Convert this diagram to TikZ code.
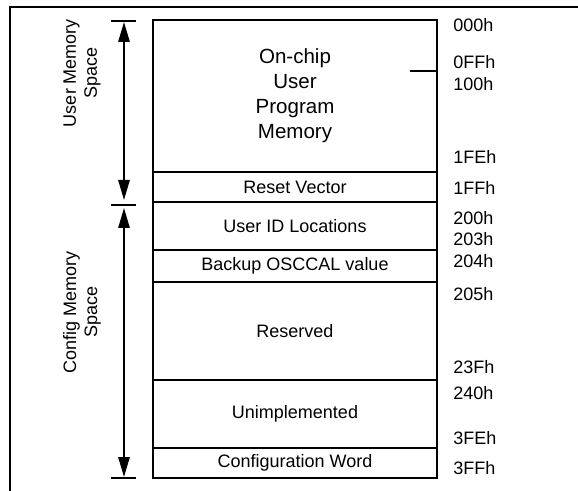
\documentclass[tikz,border=0pt]{standalone}
\usepackage{fontspec}
\setmainfont{Liberation Sans}
\usetikzlibrary{arrows.meta}
\tikzset{
	memline/.style={line width=1.4pt},
	cell/.style={font=\fontsize{13.5}{16}\selectfont},
	bigcell/.style={font=\fontsize{15.4}{18.8}\selectfont, align=center},
	addr/.style={anchor=west, inner sep=0pt, font=\fontsize{13.5}{16}\selectfont},
	spacelabel/.style={rotate=90, align=center, font=\fontsize{13.5}{15.8}\selectfont},
	spanarrow/.style={line width=1.4pt, {Triangle[length=15pt,width=8.5pt]}-{Triangle[length=15pt,width=8.5pt]}},
}

\begin{document}
\begin{tikzpicture}[x=0.75pt, y=-0.75pt]
				\useasboundingbox (0,0) rectangle (578,491);
				\draw[memline] (578,7) -- (10,7) -- (10,491);
				
				% memory map
				\draw[memline] (153,20) rectangle (437,478);
				\draw[memline] (153,172) -- (437,172);
				\draw[memline] (153,202) -- (437,202);
				\draw[memline] (153,250) -- (437,250);
				\draw[memline] (153,282) -- (437,282);
				\draw[memline] (153,380) -- (437,380);
				\draw[memline] (153,448) -- (437,448);
				\draw[memline] (410,71) -- (437,71);
				
				\node[bigcell] (progmem) at (295,96) {On-chip\\User\\Program\\Memory};
				\node[cell] (reset) at (295,187) {Reset Vector};
				\node[cell] (userid) at (295,226) {User ID Locations};
				\node[cell] (osccal) at (295,266) {Backup OSCCAL value};
				\node[cell] (reserved) at (295,331) {Reserved};
				\node[cell] (unimpl) at (295,414) {Unimplemented};
				\node[cell] (config) at (295,463) {Configuration Word};
				
				% addresses
				\node[addr] (a000) at (453,25) {000h};
				\node[addr] (a0ff) at (453,62) {0FFh};
				\node[addr] (a100) at (453,84) {100h};
				\node[addr] (a1fe) at (453,157) {1FEh};
				\node[addr] (a1ff) at (453,188) {1FFh};
				\node[addr] (a200) at (453,218) {200h};
				\node[addr] (a203) at (453,239) {203h};
				\node[addr] (a204) at (453,261) {204h};
				\node[addr] (a205) at (453,294) {205h};
				\node[addr] (a23f) at (453,367) {23Fh};
				\node[addr] (a240) at (453,393) {240h};
				\node[addr] (a3fe) at (453,438) {3FEh};
				\node[addr] (a3ff) at (453,468) {3FFh};
				
				% spans
				\draw[memline] (111,21) -- (136,21);
				\draw[memline] (111,205) -- (136,205);
				\draw[memline] (111,478) -- (136,478);
				\coordinate (usertop) at (124,22);
				\coordinate (userbot) at (124,200);
				\coordinate (cfgtop) at (124,208);
				\coordinate (cfgbot) at (124,477);
				\draw[spanarrow] (usertop) -- (userbot);
				\draw[spanarrow] (cfgtop) -- (cfgbot);
				
				\node[spacelabel] (userspace) at (82,73) {User Memory\\Space};
				\node[spacelabel] (cfgspace) at (82,312) {Config Memory\\Space};
			\end{tikzpicture}
\end{document}
